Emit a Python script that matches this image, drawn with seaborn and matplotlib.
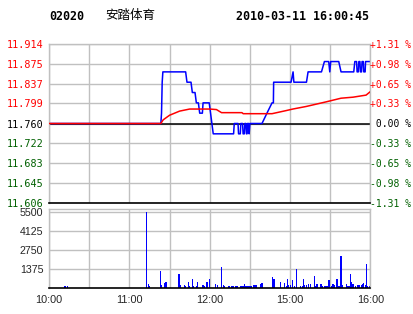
import numpy as np
import pandas as pd
import matplotlib
matplotlib.use("Agg")
import matplotlib.pyplot as plt
import seaborn as sns

# ---------------- data ----------------
code = "02020"
name = "安踏体育"
stamp = "2010-03-11 16:00:45"
prev_close = 11.760

price_ticks = [11.606, 11.645, 11.683, 11.722, 11.760, 11.799, 11.837, 11.875, 11.914]
pct_labels = ["-1.31 %", "-0.98 %", "-0.65 %", "-0.33 %", " 0.00 %",
              "+0.33 %", "+0.65 %", "+0.98 %", "+1.31 %"]
time_ticks = [0, 60, 120, 180, 240]
time_labels = ["10:00", "11:00", "12:00", "15:00", "16:00"]
vol_ticks = [1375, 2750, 4125, 5500]

# price line vertices (minute of session, price)
price_min = [0, 83.5, 84, 84.5, 85, 102, 103, 106, 107, 109, 110, 111.5, 112.5, 114.5, 115,
             119.6, 122.6, 137.8, 138.3, 141.1, 141.5, 142.8, 143.2, 144.5, 144.9, 145.8,
             146.2, 147, 147.4, 147.8, 148.2, 149, 149.4, 150, 159, 162.7, 166.5, 167.5,
             167.7, 180.7, 182.2, 182.8, 192.2, 193.4, 203.4, 205.6, 208.8, 209.6, 210.3,
             216.3, 218, 227.5, 228.3, 229.6, 230, 230.9, 231.3, 232.1, 232.5, 233.3,
             233.7, 234.6, 235, 236, 236.3, 240]
price_val = [11.76, 11.76, 11.78, 11.84, 11.86, 11.86, 11.84, 11.84, 11.82, 11.82, 11.80, 11.80,
             11.78, 11.78, 11.80, 11.80, 11.74, 11.74, 11.76, 11.76, 11.74, 11.74, 11.76,
             11.76, 11.74, 11.74, 11.76, 11.76, 11.74, 11.74, 11.76, 11.76, 11.74, 11.76,
             11.76, 11.78, 11.80, 11.80, 11.84, 11.84, 11.86, 11.84, 11.84, 11.86, 11.86,
             11.88, 11.88, 11.86, 11.88, 11.88, 11.86, 11.86, 11.88, 11.88, 11.86, 11.86,
             11.88, 11.88, 11.86, 11.86, 11.88, 11.88, 11.86, 11.86, 11.88, 11.88]

# average price line vertices
avg_min = [0, 83.5, 85.2, 90, 97.5, 105, 120, 125, 128.8, 144, 145, 166.5, 177, 182, 192,
           207, 218, 227, 236.7, 240]
avg_val = [11.760, 11.760, 11.767, 11.776, 11.784, 11.788, 11.788, 11.787, 11.781, 11.781,
           11.779, 11.779, 11.785, 11.788, 11.793, 11.802, 11.809, 11.811, 11.815, 11.822]

# volume bars (minute of session, shares)
vol_min = [12, 14, 73, 74, 75, 83, 84, 86, 87, 88, 97, 98, 101, 102, 104, 105, 107, 108, 110,
           111, 115, 116, 118, 120, 124, 126, 129, 130, 131, 134, 135, 136, 137, 138, 139,
           140, 141, 143, 144, 145, 146, 147, 148, 149, 150, 151, 153, 154, 155, 158, 159,
           167, 168, 173, 176, 177, 178, 179, 180, 182, 183, 185, 188, 189, 190, 191, 192,
           194, 195, 198, 199, 200, 203, 204, 206, 207, 208, 209, 211, 212, 213, 215, 216,
           217, 218, 219, 222, 223, 224, 225, 226, 227, 229, 230, 231, 232, 233, 234, 235,
           236, 237, 238, 239, 240]
vol_val = [150, 150, 5500, 290, 150, 1230, 200, 360, 430, 430, 1035, 220, 220, 150, 430, 150,
           675, 150, 150, 430, 220, 150, 430, 675, 310, 220, 1545, 220, 170, 170, 170, 170,
           170, 170, 170, 170, 170, 170, 170, 170, 310, 170, 170, 170, 170, 170, 220, 220,
           220, 310, 390, 820, 675, 455, 390, 150, 675, 240, 240, 600, 150, 1400, 150, 150,
           675, 220, 220, 310, 310, 845, 150, 310, 310, 150, 150, 150, 150, 600, 150, 310,
           220, 675, 150, 150, 2270, 220, 310, 150, 150, 1040, 455, 310, 150, 220, 220, 220,
           220, 310, 390, 220, 1760, 150, 150, 1620]

# ---------------- figure ----------------
sns.set_theme(style="white")
plt.rcParams["font.family"] = ["DejaVu Sans"]

W, H = 414, 314
fig = plt.figure(figsize=(W / 100, H / 100), dpi=100, facecolor="white")

L, R = 49, 370.5
ax = fig.add_axes([L / W, 1 - 203 / H, (R - L) / W, (203 - 44) / H])
axv = fig.add_axes([L / W, 1 - 288 / H, (R - L) / W, (288 - 209) / H])

grid_c = "#c0c0c0"
red = "#ff0000"
green = "#006000"
blue = "#0000ff"
tick_fs = 7.0

# price panel
for y in price_ticks:
    ax.axhline(y, color=grid_c, lw=1, zorder=0)
for x in range(0, 241, 30):
    ax.axvline(x, color=grid_c, lw=1, zorder=0)
ax.axhline(prev_close, color="black", lw=1.1, zorder=1)

pdf = pd.DataFrame({"m": price_min, "p": price_val})
adf = pd.DataFrame({"m": avg_min, "p": avg_val})
sns.lineplot(data=pdf, x="m", y="p", ax=ax, color=blue, lw=1.1, sort=False,
             estimator=None, zorder=2)
sns.lineplot(data=adf, x="m", y="p", ax=ax, color=red, lw=1.1, sort=False,
             estimator=None, zorder=3)

ax.set_xlim(0, 240)
ax.set_ylim(price_ticks[0], price_ticks[-1])
ax.set_xticks([])
ax.set_yticks(price_ticks)
ax.set_yticklabels([f"{v:.3f}" for v in price_ticks], family="DejaVu Sans Mono", fontsize=7.3)
for lab, v in zip(ax.get_yticklabels(), price_ticks):
    lab.set_color(red if v > prev_close + 1e-9 else ("black" if abs(v - prev_close) < 1e-9 else green))
ax.tick_params(axis="y", length=0, pad=4)
ax.set_xlabel("")
ax.set_ylabel("")
for s in ["left", "top", "right"]:
    ax.spines[s].set_color(grid_c)
    ax.spines[s].set_linewidth(1)
ax.spines["bottom"].set_color("black")
ax.spines["bottom"].set_linewidth(1.2)

ax2 = ax.twinx()
ax2.set_ylim(price_ticks[0], price_ticks[-1])
ax2.set_yticks(price_ticks)
ax2.set_yticklabels(pct_labels, family="DejaVu Sans Mono", fontsize=tick_fs)
for lab, v in zip(ax2.get_yticklabels(), price_ticks):
    lab.set_color(red if v > prev_close + 1e-9 else ("black" if abs(v - prev_close) < 1e-9 else green))
ax2.tick_params(axis="y", length=0, pad=0)
for s in ax2.spines.values():
    s.set_visible(False)

# volume panel
for y in vol_ticks:
    axv.axhline(y, color=grid_c, lw=1, zorder=0)
for x in range(0, 241, 30):
    axv.axvline(x, color=grid_c, lw=1, zorder=0)
vdf = pd.DataFrame({"m": vol_min, "v": vol_val})
sns.barplot(data=vdf, x="m", y="v", ax=axv, native_scale=True, color=blue,
            saturation=1, width=0.9, errorbar=None, zorder=2, linewidth=0)
axv.set_xlim(0, 240)
axv.set_ylim(0, 5680)
axv.set_yticks(vol_ticks)
axv.set_yticklabels([str(v) for v in vol_ticks], family="Liberation Sans", fontsize=7.7)
axv.set_xticks(time_ticks)
axv.set_xticklabels(time_labels, family="Liberation Sans", fontsize=7.8)
axv.tick_params(axis="both", length=0)
axv.tick_params(axis="y", pad=4)
axv.tick_params(axis="x", pad=5)
axv.set_xlabel("")
axv.set_ylabel("")
for s in ["left", "top", "right"]:
    axv.spines[s].set_color(grid_c)
    axv.spines[s].set_linewidth(1)
axv.spines["bottom"].set_color("black")
axv.spines["bottom"].set_linewidth(1.2)

# header
fig.text(67 / W, 1 - 16 / H, code, ha="center", va="center", family="DejaVu Sans Mono",
         fontweight="bold", fontsize=8.4, color="black")
fig.text(130 / W, 1 - 16 / H, name, ha="center", va="center",
         family=["Noto Sans CJK SC", "DejaVu Sans"], fontsize=9, color="black")
fig.text(303 / W, 1 - 16 / H, stamp, ha="center", va="center", family="DejaVu Sans Mono",
         fontweight="bold", fontsize=8.4, color="black")

fig.savefig("out.png", dpi=100, facecolor="white")
